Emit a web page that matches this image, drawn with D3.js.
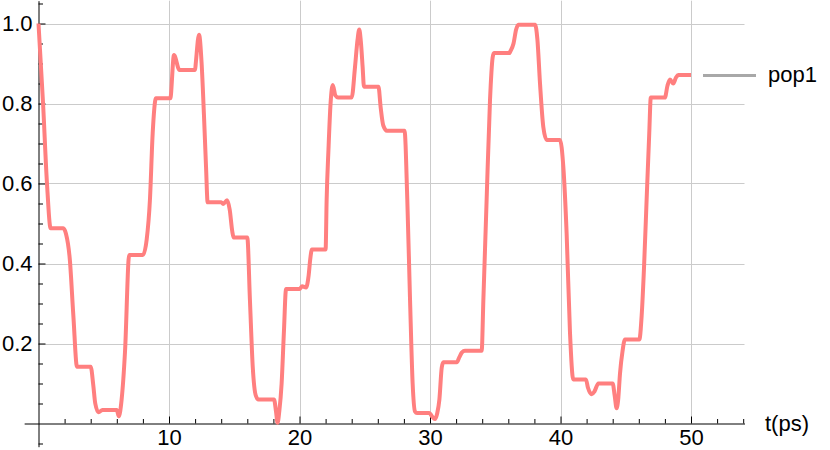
<!DOCTYPE html>
<html>
<head>
<meta charset="utf-8">
<script src="https://cdn.jsdelivr.net/npm/d3@7"></script>
<style>
  html, body { margin: 0; padding: 0; background: #fff; }
  svg { display: block; font-family: "Liberation Sans", Arial, sans-serif; }
</style>
</head>
<body>
<svg id="chart" width="830" height="450"></svg>
<script>
// pop1 population vs time
const tValues = [
  0, 0.35, 0.65, 0.93, 1.9, 2.1, 2.4, 2.67, 2.95, 4.0,
  4.2, 4.35, 4.6, 4.9, 6.0, 6.15, 6.37, 6.63, 6.95, 8.0,
  8.29, 8.54, 8.75, 9.0, 10.0, 10.1, 10.38, 10.8, 12.0, 12.05,
  12.3, 12.5, 12.68, 12.84, 12.96, 14.0, 14.15, 14.45, 14.65, 14.85,
  14.95, 16.0, 16.2, 16.42, 16.65, 16.85, 18.05, 18.2, 18.32, 18.45,
  18.63, 18.8, 18.97, 20.0, 20.2, 20.5, 20.7, 20.82, 20.95, 22.0,
  22.08, 22.22, 22.38, 22.55, 22.75, 22.95, 24.0, 24.25, 24.45, 24.58,
  24.7, 24.84, 24.94, 26.05, 26.22, 26.42, 26.7, 28.05, 28.26, 28.47,
  28.67, 28.85, 29.0, 29.95, 30.15, 30.38, 30.55, 30.72, 30.9, 31.02,
  32.05, 32.25, 32.45, 32.68, 33.96, 34.09, 34.34, 34.6, 34.8, 34.9,
  36.08, 36.15, 36.4, 36.6, 36.77, 38.05, 38.23, 38.43, 38.68, 38.94,
  39.96, 40.22, 40.47, 40.73, 40.98, 41.95, 42.1, 42.39, 42.6, 42.9,
  44.0, 44.15, 44.3, 44.42, 44.56, 44.75, 44.94, 46.04, 46.22, 46.4,
  46.6, 46.8, 46.92, 48.0, 48.2, 48.39, 48.64, 48.85, 49.03, 50.0
];
const pop1Values = [
  1.0, 0.8, 0.6, 0.488, 0.488, 0.475, 0.41, 0.27, 0.142, 0.142,
  0.095, 0.05, 0.028, 0.034, 0.034, 0.018, 0.06, 0.18, 0.421, 0.421,
  0.46, 0.56, 0.726, 0.813, 0.813, 0.813, 0.921, 0.884, 0.884, 0.9,
  0.972, 0.9, 0.77, 0.64, 0.553, 0.553, 0.549, 0.558, 0.535, 0.48,
  0.465, 0.465, 0.31, 0.14, 0.07, 0.06, 0.06, 0.03, 0.002, 0.03,
  0.1, 0.225, 0.336, 0.336, 0.343, 0.34, 0.37, 0.41, 0.435, 0.435,
  0.56, 0.685, 0.8, 0.846, 0.82, 0.815, 0.815, 0.89, 0.96, 0.985,
  0.955, 0.89, 0.842, 0.842, 0.79, 0.745, 0.732, 0.732, 0.56, 0.31,
  0.1, 0.03, 0.026, 0.026, 0.018, 0.011, 0.025, 0.06, 0.14, 0.153,
  0.153, 0.166, 0.178, 0.182, 0.182, 0.31, 0.56, 0.81, 0.915, 0.926,
  0.926, 0.93, 0.95, 0.985, 0.997, 0.997, 0.96, 0.85, 0.742, 0.709,
  0.709, 0.64, 0.475, 0.225, 0.11, 0.11, 0.09, 0.073, 0.08, 0.1,
  0.1, 0.07, 0.038, 0.06, 0.125, 0.18, 0.21, 0.21, 0.27, 0.39,
  0.56, 0.725, 0.815, 0.815, 0.845, 0.86, 0.85, 0.865, 0.871, 0.871
];
const seriesName = 'pop1';
const xLabel = 't(ps)';
const xMajorTicks = [10, 20, 30, 40, 50];
const xMinorTicks = [2, 4, 6, 8, 12, 14, 16, 18, 22, 24, 26, 28, 32, 34, 36, 38, 42, 44, 46, 48, 52, 54];
const yMajorTicks = [0.2, 0.4, 0.6, 0.8, 1.0];
const yMinorTicks = [-0.05, 0.05, 0.1, 0.15, 0.25, 0.3, 0.35, 0.45, 0.5, 0.55, 0.65, 0.7, 0.75, 0.85, 0.9, 0.95, 1.05];

const data = tValues.map((t, i) => ({ t, v: pop1Values[i] }));

const svg = d3.select('#chart');
const fontSize = 22;

// scales: origin at (38.5, 423.5)
const x = d3.scaleLinear().domain([-1.1, 54.1]).range([38.5 - 1.1 * 13.05, 38.5 + 54.1 * 13.05]);
const y = d3.scaleLinear().domain([-0.058, 1.057]).range([423.5 + 0.058 * 400, 423.5 - 1.057 * 400]);

const x0 = x(0), y0 = y(0);
const gridColor = '#cbcbcb';

// Grid
svg.append('g').selectAll('line').data(yMajorTicks).join('line')
  .attr('x1', x0).attr('x2', x.range()[1])
  .attr('y1', d => Math.round(y(d)) + 0.5).attr('y2', d => Math.round(y(d)) + 0.5)
  .attr('stroke', gridColor).attr('stroke-width', 1);
svg.append('g').selectAll('line').data(xMajorTicks).join('line')
  .attr('x1', d => Math.round(x(d)) + 0.5).attr('x2', d => Math.round(x(d)) + 0.5)
  .attr('y1', y.range()[1]).attr('y2', y0)
  .attr('stroke', gridColor).attr('stroke-width', 1);

// X axis (ticks point up into the plot)
const xAxisG = svg.append('g').attr('transform', `translate(0,${y0})`);
xAxisG.call(d3.axisBottom(x).tickValues(xMajorTicks).tickSize(-7).tickSizeOuter(0).tickPadding(6).tickFormat(d3.format('d')));
xAxisG.append('g').call(d3.axisBottom(x).tickValues(xMinorTicks).tickSize(-4.5).tickSizeOuter(0).tickFormat(''))
  .select('.domain').remove();

// Y axis (ticks point right into the plot)
const yAxisG = svg.append('g').attr('transform', `translate(${x0},0)`);
yAxisG.call(d3.axisLeft(y).tickValues(yMajorTicks).tickSize(-7).tickSizeOuter(0).tickPadding(6).tickFormat(d3.format('.1f')));
yAxisG.append('g').call(d3.axisLeft(y).tickValues(yMinorTicks).tickSize(-4.5).tickSizeOuter(0).tickFormat(''))
  .select('.domain').remove();

svg.selectAll('.domain, .tick line').attr('stroke', '#000').attr('stroke-width', 1);
svg.selectAll('.tick text')
  .attr('fill', '#000')
  .style('font-size', fontSize + 'px')
  .style('font-family', '"Liberation Sans", Arial, sans-serif');

// Curve
svg.append('path')
  .datum(data)
  .attr('fill', 'none')
  .attr('stroke', '#ff7f7f')
  .attr('stroke-width', 4)
  .attr('stroke-linejoin', 'round')
  .attr('d', d3.line().x(d => x(d.t)).y(d => y(d.v)).curve(d3.curveMonotoneX));

// Axis label
svg.append('text')
  .attr('x', 765)
  .attr('y', y0)
  .attr('dy', '0.35em')
  .attr('font-size', fontSize)
  .attr('fill', '#000')
  .text(xLabel);

// Legend
svg.append('line')
  .attr('x1', 703).attr('x2', 756)
  .attr('y1', 75.5).attr('y2', 75.5)
  .attr('stroke', '#a8a8a8')
  .attr('stroke-width', 3);
svg.append('text')
  .attr('x', 768)
  .attr('y', 75.5)
  .attr('dy', '0.3em')
  .attr('font-size', fontSize)
  .attr('fill', '#000')
  .text(seriesName);
</script>
</body>
</html>
